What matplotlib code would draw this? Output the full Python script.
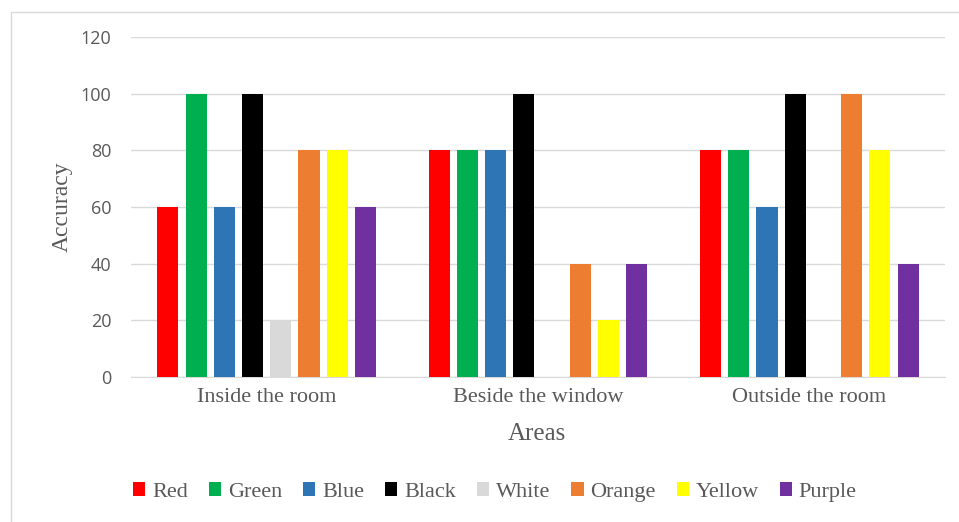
import matplotlib
matplotlib.use("Agg")
import matplotlib.pyplot as plt
from matplotlib.patches import Rectangle
import numpy as np

# chart data
areas = ["Inside the room", "Beside the window", "Outside the room"]
colours = ["Red", "Green", "Blue", "Black", "White", "Orange", "Yellow", "Purple"]
red = [60, 80, 80]
green = [100, 80, 80]
blue = [60, 80, 60]
black = [100, 100, 100]
white = [20, 0, 0]
orange = [80, 40, 100]
yellow = [80, 20, 80]
purple = [60, 40, 40]
series = [red, green, blue, black, white, orange, yellow, purple]
yticks = [0, 20, 40, 60, 80, 100, 120]

fills = ["#FF0000", "#00B050", "#2E75B6", "#000000", "#D9D9D9",
         "#ED7D31", "#FFFF00", "#7030A0"]
txt = "#595959"
serif = "Liberation Serif"

fig = plt.figure(figsize=(9.59, 5.22), dpi=100)
# outer chart border like the excel frame
fig.patches.append(Rectangle((11 / 959, -0.01), 0.99, (522 - 12) / 522 + 0.01,
                             transform=fig.transFigure, fill=False,
                             edgecolor="#D9D9D9", linewidth=1))

ax = fig.add_axes([131 / 959, 1 - 377 / 522, (945 - 131) / 959, (377 - 37) / 522])

x = np.arange(len(areas))
step = 0.104
width = 0.078
for j, (name, vals) in enumerate(zip(colours, series)):
    ax.bar(x + (j - 3.5) * step, vals, width, color=fills[j], label=name, zorder=3)

ax.set_xlim(-0.5, 2.5)
ax.set_ylim(0, 120)
ax.set_yticks(yticks)
ax.set_xticks(x)
ax.set_xticklabels(areas, fontfamily=serif, fontsize=16, color=txt)
for lab in ax.get_yticklabels():
    lab.set_fontfamily("Open Sans")
    lab.set_fontsize(13)
    lab.set_color(txt)
ax.tick_params(length=0, pad=14)
ax.tick_params(axis="x", pad=8)
ax.grid(axis="y", color="#D9D9D9", linewidth=1, zorder=0)
for s in ["top", "right", "left"]:
    ax.spines[s].set_visible(False)
ax.spines["bottom"].set_color("#D9D9D9")

fig.text(62 / 959, 1 - 207 / 522, "Accuracy", rotation=90, ha="center", va="center",
         fontfamily=serif, fontsize=17, color=txt)
fig.text(537 / 959, 1 - 434 / 522, "Areas", ha="center", va="center",
         fontfamily=serif, fontsize=18, color=txt)

fig.legend(loc="center", bbox_to_anchor=(495 / 959, 1 - 492 / 522), ncol=8,
           frameon=False, prop={"family": serif, "size": 16}, labelcolor=txt,
           handlelength=0.55, handleheight=0.55, handletextpad=0.3,
           columnspacing=0.95)

fig.savefig("out.png", dpi=100)
